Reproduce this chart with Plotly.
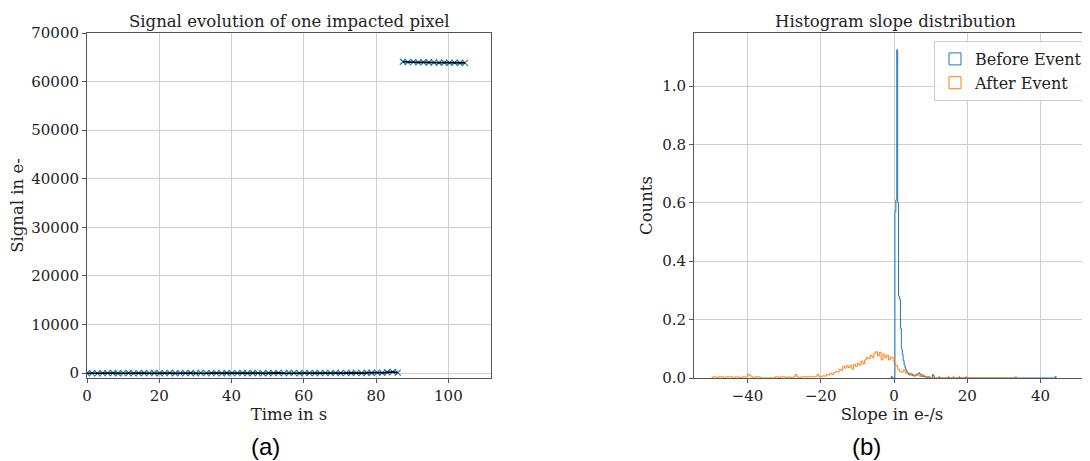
import plotly.graph_objects as go

# ---------------- Data: panel (a) ----------------
time_before = [0.0, 1.4, 2.9, 4.3, 5.7, 7.2, 8.6, 10.0, 11.5, 12.9, 14.3, 15.8, 17.2, 18.6, 20.1,
               21.5, 22.9, 24.4, 25.8, 27.2, 28.7, 30.1, 31.5, 33.0, 34.4, 35.8, 37.3, 38.7, 40.1,
               41.6, 43.0, 44.4, 45.9, 47.3, 48.7, 50.2, 51.6, 53.0, 54.5, 55.9, 57.3, 58.8, 60.2,
               61.6, 63.1, 64.5, 65.9, 67.4, 68.8, 70.2, 71.7, 73.1, 74.5, 76.0, 77.4, 78.8, 80.3,
               81.7, 83.1, 84.6, 86.0]
signal_before = [-20, 15, -35, 10, -5, 30, -25, 5, 20, -40, 0, 35, -10, 25, -15, 5, 40, -30, 10, -5,
                 20, -20, 45, -10, 0, 15, -35, 30, -5, 10, 50, -15, 25, 5, -25, 35, 0, 60, -10, 20,
                 45, -20, 65, 10, 30, -5, 55, 15, 40, 0, 70, 25, 50, 10, 80, 35, 120, 60, 180, 250, 90]
time_after = [87.4, 88.8, 90.3, 91.7, 93.1, 94.6, 96.0, 97.4, 98.9, 100.3, 101.7, 103.2, 104.6]
signal_after = [64080, 64010, 64050, 63950, 63990, 63920, 63960, 63880, 63910, 63860, 63890, 63830, 63850]

# ---------------- Data: panel (b) ----------------
before_edges = [-0.75, -0.5, 0.25, 0.5, 0.75, 1.0, 1.25, 1.5, 1.75, 2.0, 2.25, 2.5, 2.75, 3.0, 3.25,
                3.5, 3.75, 4.0, 4.25, 4.5, 4.75, 5.0, 5.25, 5.5, 5.75, 6.0, 6.25, 6.5, 6.75, 7.0,
                7.25, 7.5, 7.75, 8.0, 8.25, 8.5, 8.75, 9.0, 9.25, 9.5, 10.5, 10.75, 11.0, 12.25,
                12.5, 14.75, 15.0, 17.75, 18.0, 44.0, 44.25]
before_density = [0.006, 0.0, 0.57, 0.61, 1.124, 0.6, 0.28, 0.27, 0.17, 0.1, 0.08, 0.06, 0.045, 0.035,
                  0.028, 0.02, 0.018, 0.012, 0.015, 0.01, 0.012, 0.008, 0.01, 0.006, 0.01, 0.008,
                  0.012, 0.015, 0.018, 0.014, 0.01, 0.005, 0.008, 0.004, 0.006, 0.003, 0.005, 0.002,
                  0.004, 0.0, 0.012, 0.008, 0.0, 0.004, 0.0, 0.004, 0.0, 0.004, 0.0, 0.005]

after_edges = [-50.0, -49.5, -49.0, -48.5, -48.0, -47.5, -47.0, -46.5, -46.0, -45.5, -45.0, -44.5,
               -44.0, -43.5, -43.0, -42.5, -42.0, -41.5, -41.0, -40.5, -40.0, -39.5, -39.0, -38.5,
               -38.0, -37.5, -37.0, -36.5, -36.0, -35.5, -35.0, -34.5, -34.0, -33.5, -33.0, -32.5,
               -32.0, -31.5, -31.0, -30.5, -30.0, -29.5, -29.0, -28.5, -28.0, -27.5, -27.0, -26.5,
               -26.0, -25.5, -25.0, -24.5, -24.0, -23.5, -23.0, -22.5, -22.0, -21.5, -21.0, -20.5,
               -20.0, -19.5, -19.0, -18.5, -18.0, -17.5, -17.0, -16.5, -16.0, -15.5, -15.0, -14.5,
               -14.0, -13.5, -13.0, -12.5, -12.0, -11.5, -11.0, -10.5, -10.0, -9.5, -9.0, -8.5,
               -8.0, -7.5, -7.0, -6.5, -6.0, -5.5, -5.0, -4.5, -4.0, -3.5, -3.0, -2.5, -2.0, -1.5,
               -1.0, -0.5, 0.0, 0.5, 1.0, 1.5, 2.0, 2.5, 3.0, 3.5, 4.0, 4.5, 5.0, 5.5, 6.0, 6.5,
               7.0, 7.5, 8.0, 8.5, 9.0, 9.5, 10.0, 10.5, 11.0, 11.5, 12.0, 16.0, 16.5, 19.5, 20.0,
               33.0, 33.5]
after_density = [0.0, 0.004, 0.004, 0.0, 0.004, 0.003, 0.004, 0.0, 0.004, 0.004,
                 0.003, 0.004, 0.0, 0.004, 0.004, 0.003, 0.0, 0.004, 0.004, 0.003,
                 0.013, 0.008, 0.004, 0.0, 0.004, 0.003, 0.004, 0.0, 0.0, 0.0,
                 0.0, 0.0, 0.0, 0.0, 0.0, 0.004, 0.004, 0.0, 0.004, 0.003,
                 0.004, 0.0, 0.004, 0.003, 0.0, 0.004, 0.012, 0.004, 0.0, 0.004,
                 0.004, 0.003, 0.004, 0.004, 0.004, 0.005, 0.004, 0.006, 0.012, 0.004,
                 0.004, 0.008, 0.006, 0.012, 0.01, 0.016, 0.012, 0.018, 0.022, 0.02,
                 0.03, 0.026, 0.04, 0.034, 0.042, 0.036, 0.044, 0.03, 0.046, 0.04,
                 0.05, 0.044, 0.058, 0.048, 0.062, 0.07, 0.066, 0.078, 0.07, 0.085,
                 0.09, 0.076, 0.088, 0.062, 0.082, 0.07, 0.078, 0.062, 0.072, 0.068,
                 0.05, 0.042, 0.03, 0.022, 0.02, 0.028, 0.018, 0.014, 0.01, 0.016,
                 0.012, 0.008, 0.014, 0.01, 0.006, 0.012, 0.008, 0.004, 0.006, 0.004,
                 0.0, 0.004, 0.0, 0.0, 0.0, 0.004, 0.0, 0.004, 0.0, 0.004]

legend_names = ["Before Event", "After Event"]

BLUE = "#1f77b4"
ORANGE = "#ff7f0e"
FONT = "DejaVu Serif"
TXT = "#222222"
SPINE = "#555555"
GRID = "#cfcfcf"


def step_path(edges, heights):
    xs, ys = [edges[0]], [0.0]
    for i, h in enumerate(heights):
        xs += [edges[i], edges[i + 1]]
        ys += [h, h]
    xs.append(edges[-1])
    ys.append(0.0)
    return xs, ys


fig = go.Figure()

# Panel (a)
for t, s in [(time_before, signal_before), (time_after, signal_after)]:
    fig.add_trace(go.Scatter(x=t, y=s, mode="markers", xaxis="x", yaxis="y", showlegend=False,
                             marker=dict(symbol="x-thin", size=6, color=BLUE,
                                         line=dict(color=BLUE, width=1.2))))
    fig.add_trace(go.Scatter(x=t, y=s, mode="lines", xaxis="x", yaxis="y", showlegend=False,
                             line=dict(color="black", width=1.6)))

# Panel (b)
for edges, dens, col, name in [(before_edges, before_density, BLUE, legend_names[0]),
                               (after_edges, after_density, ORANGE, legend_names[1])]:
    xs, ys = step_path(edges, dens)
    fig.add_trace(go.Scatter(x=xs, y=ys, mode="lines", xaxis="x2", yaxis="y2", showlegend=False,
                             line=dict(color=col, width=1)))
    fig.add_trace(go.Bar(x=[None], y=[None], xaxis="x2", yaxis="y2", name=name,
                         marker=dict(color="rgba(0,0,0,0)", line=dict(color=col, width=1))))

TITLE_SIZE = 16.5
axis_common = dict(showline=True, linecolor=SPINE, linewidth=1, showgrid=True, gridcolor=GRID,
                   gridwidth=1, zeroline=False, ticks="outside", ticklen=4, tickcolor=SPINE,
                   automargin=False,
                   tickfont=dict(family=FONT, size=15, color=TXT))

# page body has an 8px margin: the figure is drawn from (8, 8) of the window
OFF = 8.0
W = 1090.0 - OFF
H = 461.0 - OFF


def px(x):
    return (x - OFF) / W


def py(y):
    return 1 - (y - OFF) / H


ydom = [py(378), py(33)]


def ann(text, x, y, size=TITLE_SIZE, family=FONT, color=TXT):
    return dict(text=text, x=px(x), y=py(y), xref="paper", yref="paper", showarrow=False,
                xanchor="center", yanchor="middle", font=dict(family=family, size=size, color=color))


def title(text):
    return dict(text=text, font=dict(family=FONT, size=TITLE_SIZE, color=TXT))


fig.update_layout(
    template="none",
    width=int(W), height=int(H), autosize=False,
    margin=dict(l=0, r=0, t=0, b=0, pad=0),
    paper_bgcolor="white", plot_bgcolor="white",
    font=dict(family=FONT, size=15, color=TXT),
    bargap=0,
    xaxis=dict(domain=[px(87), px(491)], range=[0, 111.8], anchor="y", mirror=True,
               tickvals=[0, 20, 40, 60, 80, 100], title=dict(title("Time in s"), standoff=1),
               **axis_common),
    yaxis=dict(domain=ydom, range=[-1000, 70000], anchor="x", mirror=True,
               tickvals=[0, 10000, 20000, 30000, 40000, 50000, 60000, 70000], tickformat="d",
               title=dict(title("Signal in e-"), standoff=5), **axis_common),
    xaxis2=dict(domain=[px(694), 1.0], range=[-54.6, 53.5], anchor="y2", mirror=True,
                tickvals=[-40, -20, 0, 20, 40], title=dict(title("Slope in e-/s"), standoff=1),
                **axis_common),
    yaxis2=dict(domain=ydom, range=[0, 1.1815], anchor="x2",
                tickvals=[0, 0.2, 0.4, 0.6, 0.8, 1.0], tickformat=".1f",
                title=dict(title("Counts"), standoff=5), **axis_common),
    legend=dict(x=px(1088), y=py(41), xanchor="right", yanchor="top",
                bgcolor="rgba(255,255,255,0.85)", bordercolor="#cccccc", borderwidth=1,
                font=dict(family=FONT, size=16, color=TXT), tracegroupgap=0),
    annotations=[
        ann("Signal evolution of one impacted pixel", 289, 21),
        ann("Histogram slope distribution", 895, 21),
        ann("(a)", 265, 446, size=24, family="Liberation Sans", color="black"),
        ann("(b)", 867, 446, size=24, family="Liberation Sans", color="black"),
    ],
)

fig.write_html("out.html")
